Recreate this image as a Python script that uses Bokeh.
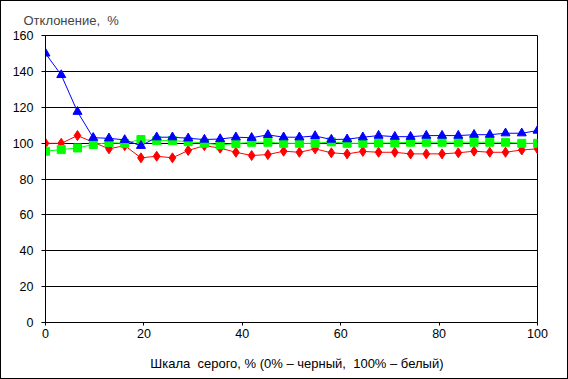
from bokeh.plotting import figure
from bokeh.models import Range1d, FixedTicker
from bokeh.embed import file_html
from bokeh.resources import INLINE

gray_pct = [0, 3.2, 6.5, 9.7, 12.9, 16.1, 19.4, 22.6, 25.8, 29.0, 32.3, 35.5, 38.7, 41.9, 45.2, 48.4,
            51.6, 54.8, 58.1, 61.3, 64.5, 67.7, 71.0, 74.2, 77.4, 80.6, 83.9, 87.1, 90.3, 93.5, 96.8, 100]
blue_vals = [150, 138, 117.5, 103, 102.7, 101.8, 98.5, 103.3, 103.3, 102.7, 102, 102.3, 103.3, 103, 104.6, 103.3,
             103.3, 104, 102, 102.2, 103.3, 104.2, 103.6, 103.6, 104.2, 104.2, 104.2, 104.7, 104.7, 105.5, 105.5, 107]
red_vals = [99.9, 99.9, 104.2, 100.5, 96.8, 98.6, 91.8, 92.7, 91.8, 95.9, 98.6, 97.2, 94.9, 93.1, 93.6, 95.5,
            94.9, 96.8, 94.6, 94, 95.4, 94.9, 94.9, 94, 94, 94, 94.6, 95.5, 94.9, 94.9, 96.2, 96.8]
green_vals = [95.5, 96.4, 97.3, 99.2, 100.3, 99.9, 102, 101.4, 101.4, 100.8, 100, 99, 99.7, 100.5, 100.5, 99.9,
              99.9, 99.9, 100.7, 99.9, 99.9, 100.1, 100.1, 100.5, 100.5, 100.5, 100.5, 100.5, 100.5, 100.5, 99.9, 99.9]
x_ticks = [0, 20, 40, 60, 80, 100]
y_ticks = [0, 20, 40, 60, 80, 100, 120, 140, 160]

FONT = "Liberation Sans"

p = figure(width=568, height=379, output_backend="svg", toolbar_location=None,
           x_range=Range1d(0, 100), y_range=Range1d(0, 160),
           min_border_left=44, min_border_right=32, min_border_top=34, min_border_bottom=58,
           title="Отклонение,\u00a0\u00a0%")
p.styles = {"border": "1px solid black", "box-sizing": "border-box"}

p.title.text_font = FONT
p.title.text_font_size = "13px"
p.title.text_font_style = "normal"
p.title.align = "left"
p.title.offset = -22
p.title.standoff = 15

p.outline_line_color = "black"
p.outline_line_width = 1
p.background_fill_color = "white"
p.border_fill_color = "white"

p.xgrid.grid_line_color = None
p.ygrid.grid_line_color = "black"
p.ygrid.grid_line_width = 1

p.xaxis.ticker = FixedTicker(ticks=x_ticks)
p.yaxis.ticker = FixedTicker(ticks=y_ticks)
for ax in (p.xaxis, p.yaxis):
    ax.axis_line_color = "black"
    ax.major_tick_line_color = "black"
    ax.minor_tick_line_color = None
    ax.major_tick_in = 0
    ax.major_label_text_font = FONT
    ax.major_label_text_font_size = "12.5px"
    ax.major_label_text_color = "black"
p.yaxis.major_tick_out = 4
p.yaxis.major_label_standoff = 8
p.xaxis.major_tick_out = 3
p.xaxis.major_label_standoff = 3
p.xaxis.axis_label = "\u00a0\u00a0\u00a0Шкала\u00a0\u00a0серого, % (0% – черный,\u00a0\u00a0100% – белый)"
p.xaxis.axis_label_text_font = FONT
p.xaxis.axis_label_text_font_size = "13px"
p.xaxis.axis_label_text_font_style = "normal"
p.xaxis.axis_label_text_color = "black"
p.xaxis.axis_label_standoff = 15

p.line(gray_pct, red_vals, line_color="#ff0000", line_width=1)
p.scatter(gray_pct, red_vals, marker="diamond", size=10, fill_color="#ff0000", line_color="#ff0000")
p.line(gray_pct, green_vals, line_color="#00ff00", line_width=1)
p.scatter(gray_pct, green_vals, marker="square", size=8, fill_color="#00ff00", line_color="#00ff00")
p.line(gray_pct, blue_vals, line_color="#0000ff", line_width=1)
p.scatter(gray_pct, blue_vals, marker="triangle", size=9, fill_color="#0000ff", line_color="#0000ff")

open("out.html", "w").write(file_html(p, INLINE))
